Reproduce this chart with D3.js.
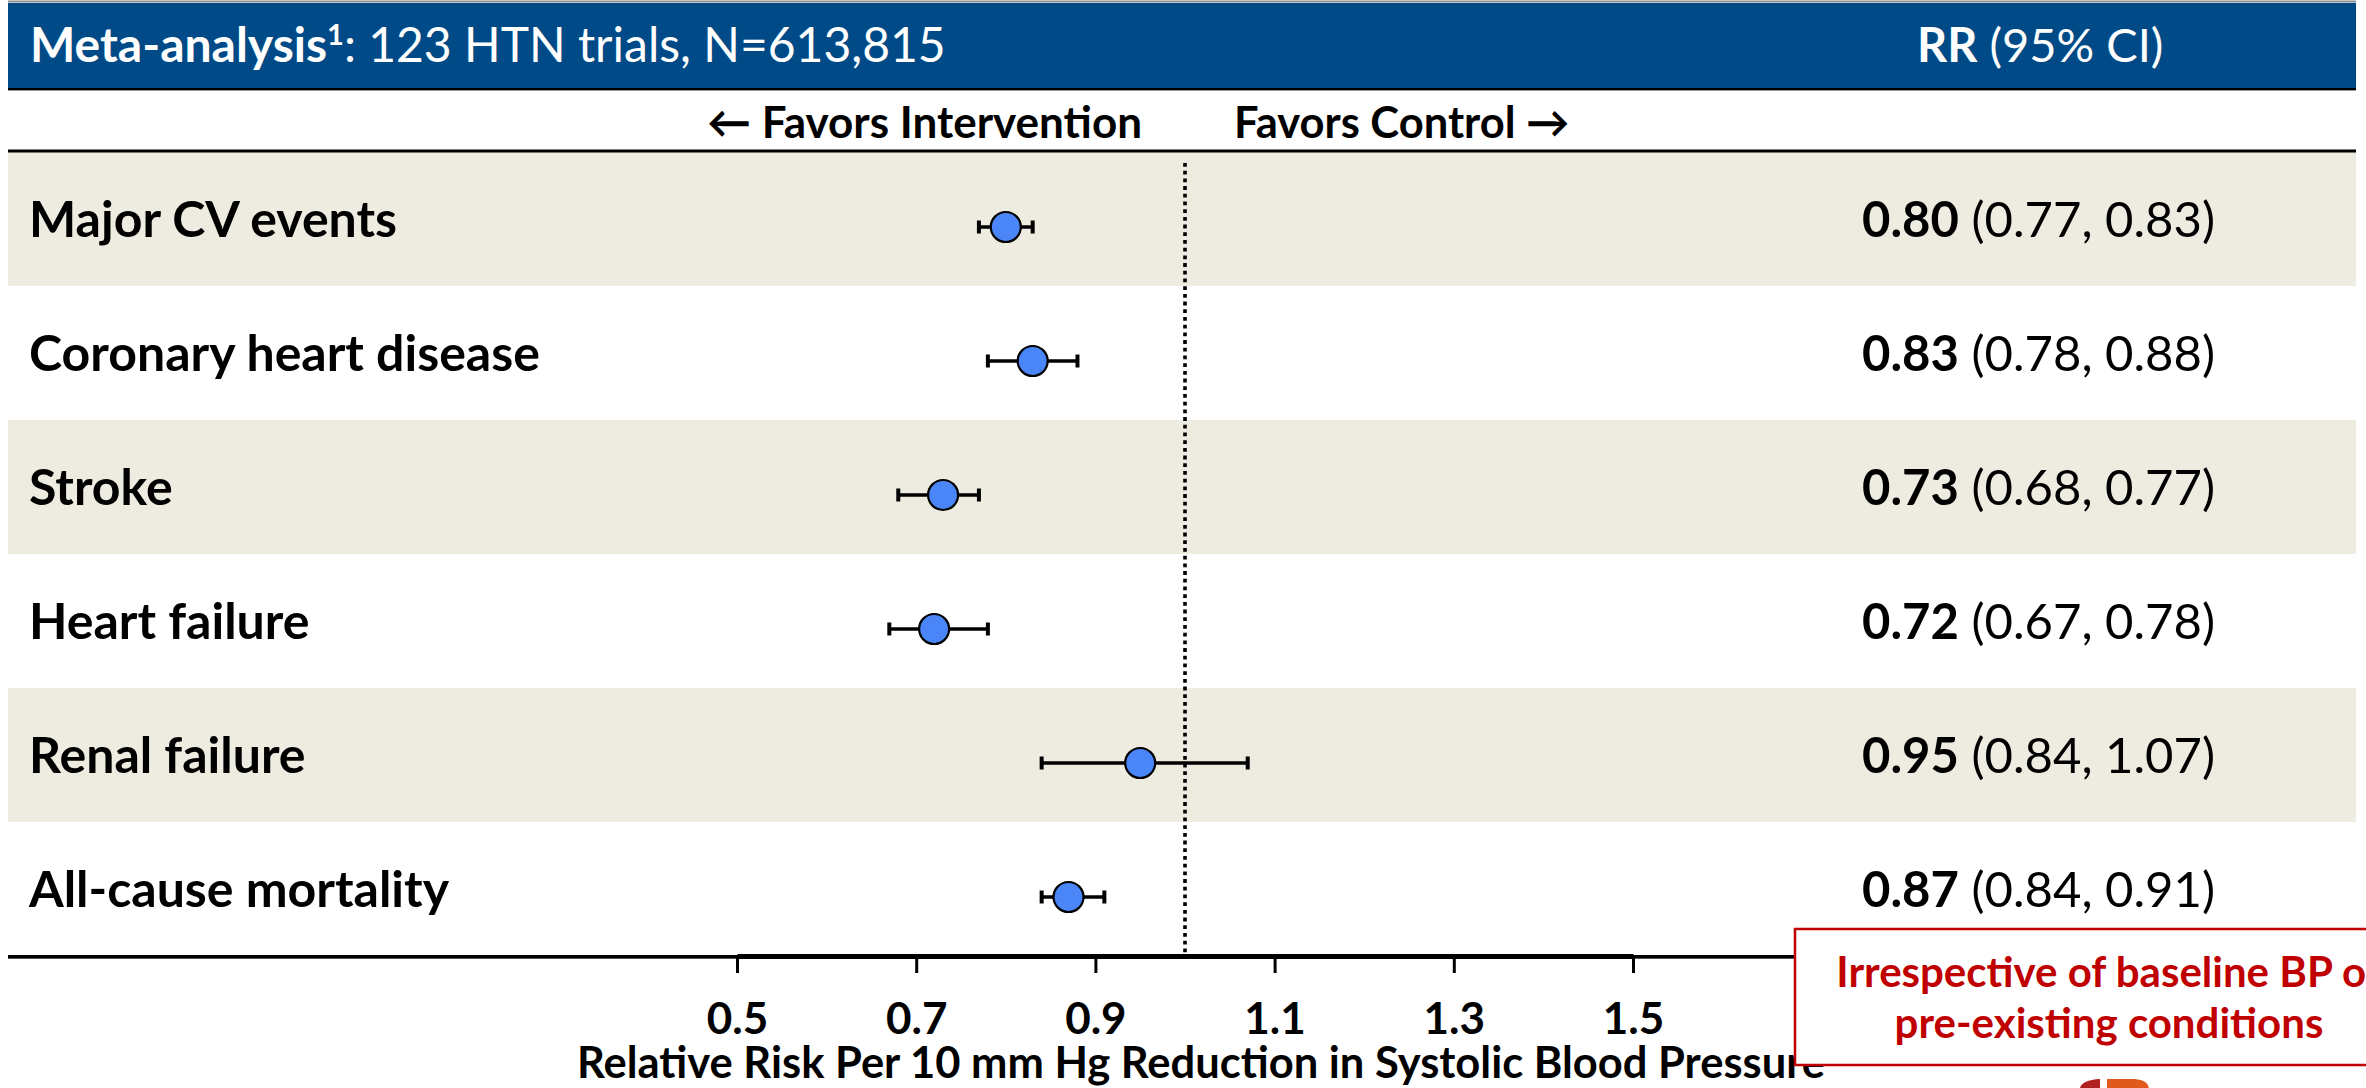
<!DOCTYPE html>
<html>
<head>
<meta charset="utf-8">
<script src="https://cdn.jsdelivr.net/npm/d3@7"></script>
<style>
  html, body { margin: 0; padding: 0; background: #ffffff; }
  svg { display: block; font-family: Lato, "Open Sans", sans-serif; }
</style>
</head>
<body>
<svg id="chart" width="2366" height="1088"></svg>
<script>
// ---- data ----
const categories = ["Major CV events", "Coronary heart disease", "Stroke", "Heart failure", "Renal failure", "All-cause mortality"];
const rr = [0.80, 0.83, 0.73, 0.72, 0.95, 0.87];
const ciLow = [0.77, 0.78, 0.68, 0.67, 0.84, 0.84];
const ciHigh = [0.83, 0.88, 0.77, 0.78, 1.07, 0.91];
const tickValues = [0.5, 0.7, 0.9, 1.1, 1.3, 1.5];
const refValue = 1.0;
const titleBold = "Meta-analysis";
const titleSup = "1";
const titleRest = ": 123 HTN trials, N=613,815";
const favorsLeft = "\u2190 Favors Intervention";
const favorsRight = "Favors Control \u2192";
const axisTitle = "Relative Risk Per 10 mm Hg Reduction in Systolic Blood Pressure";
const noteLines = ["Irrespective of baseline BP or", "pre-existing conditions"];

const rows = categories.map((c, i) => ({ cat: c, rr: rr[i], lo: ciLow[i], hi: ciHigh[i], i }));

// ---- layout ----
const svg = d3.select("#chart");
const L = 8, R = 2356;
const x = d3.scaleLinear().domain([0.5, 1.5]).range([737, 1633]);
const y = d3.scaleBand().domain(categories).range([152, 956]);
const f2 = d3.format(".2f");
const f1 = d3.format(".1f");

// top thin grey line
svg.append("line").attr("x1", L).attr("x2", R).attr("y1", 1.5).attr("y2", 1.5)
  .attr("stroke", "#8c8c8c").attr("stroke-width", 2);
// header bar
svg.append("rect").attr("x", L).attr("y", 3).attr("width", R - L).attr("height", 85).attr("fill", "#004B87");
svg.append("line").attr("x1", L).attr("x2", R).attr("y1", 89).attr("y2", 89)
  .attr("stroke", "#000").attr("stroke-width", 2);
svg.append("line").attr("x1", L).attr("x2", R).attr("y1", 90.5).attr("y2", 90.5)
  .attr("stroke", "#9a9a9a").attr("stroke-width", 1);

const title = svg.append("text").attr("x", 30).attr("y", 62).attr("fill", "#fff").attr("font-size", 48);
title.append("tspan").attr("font-weight", 700).text(titleBold);
title.append("tspan").attr("font-weight", 700).attr("font-size", 29).attr("dy", -17).text(titleSup);
title.append("tspan").attr("dy", 17).text(titleRest);

const rrHead = svg.append("text").attr("x", 1917).attr("y", 62).attr("fill", "#fff").attr("font-size", 47);
rrHead.append("tspan").attr("font-weight", 700).text("RR");
rrHead.append("tspan").text(" (95% CI)");

// favors
svg.append("text").attr("x", 1142).attr("y", 138).attr("text-anchor", "end")
  .attr("font-size", 44).attr("font-weight", 700).attr("fill", "#000").text(favorsLeft);
svg.append("text").attr("x", 1234).attr("y", 138)
  .attr("font-size", 43.5).attr("font-weight", 700).attr("fill", "#000").text(favorsRight);

// row bands
svg.append("g").selectAll("rect").data(rows).join("rect")
  .attr("x", L).attr("width", R - L)
  .attr("y", d => y(d.cat)).attr("height", y.bandwidth())
  .attr("fill", d => d.i % 2 === 0 ? "#EEEBE0" : "#FFFFFF");

// header separator line
svg.append("line").attr("x1", L).attr("x2", R).attr("y1", 151).attr("y2", 151)
  .attr("stroke", "#000").attr("stroke-width", 3);

// bottom separator line
svg.append("line").attr("x1", L).attr("x2", R).attr("y1", 956.5).attr("y2", 956.5)
  .attr("stroke", "#000").attr("stroke-width", 3);
svg.append("line").attr("x1", L).attr("x2", R).attr("y1", 958.5).attr("y2", 958.5)
  .attr("stroke", "#555").attr("stroke-width", 1);

// reference line
svg.append("line").attr("x1", x(refValue)).attr("x2", x(refValue)).attr("y1", 163).attr("y2", 955)
  .attr("stroke", "#000").attr("stroke-width", 3.6).attr("stroke-dasharray", "3.8,3.9");

// labels
svg.append("g").selectAll("text").data(rows).join("text")
  .attr("x", 29).attr("y", d => y(d.cat) + y.bandwidth() / 2 + 18)
  .attr("font-size", 50).attr("font-weight", 700).attr("fill", "#000")
  .text(d => d.cat);

// values
const vt = svg.append("g").selectAll("text").data(rows).join("text")
  .attr("x", 2215).attr("y", d => y(d.cat) + y.bandwidth() / 2 + 18)
  .attr("text-anchor", "end").attr("font-size", 49).attr("fill", "#000");
vt.append("tspan").attr("font-weight", 700).text(d => f2(d.rr));
vt.append("tspan").text(d => " (" + f2(d.lo) + ", " + f2(d.hi) + ")");

// CI and points
const pts = svg.append("g").selectAll("g").data(rows).join("g")
  .attr("transform", d => `translate(0,${y(d.cat) + y.bandwidth() / 2 + 8})`);
pts.append("line").attr("x1", d => x(d.lo)).attr("x2", d => x(d.hi))
  .attr("stroke", "#000").attr("stroke-width", 3.6);
pts.append("line").attr("x1", d => x(d.lo)).attr("x2", d => x(d.lo)).attr("y1", -6.5).attr("y2", 6.5)
  .attr("stroke", "#000").attr("stroke-width", 4);
pts.append("line").attr("x1", d => x(d.hi)).attr("x2", d => x(d.hi)).attr("y1", -6.5).attr("y2", 6.5)
  .attr("stroke", "#000").attr("stroke-width", 4);
pts.append("circle").attr("cx", d => x(d.rr)).attr("r", 15)
  .attr("fill", "#4A86F7").attr("stroke", "#000").attr("stroke-width", 2.2);

// axis
const axis = d3.axisBottom(x).tickValues(tickValues).tickFormat(f1).tickSize(17).tickSizeOuter(0);
const ag = svg.append("g").attr("transform", "translate(0,956)").call(axis);
ag.select(".domain").attr("stroke", "#000").attr("stroke-width", 5);
ag.selectAll(".tick line").attr("stroke", "#000").attr("stroke-width", 3);
ag.selectAll(".tick text").attr("y", 78).attr("dy", 0)
  .attr("font-size", 44).attr("font-weight", 700).attr("fill", "#000").attr("font-family", "Lato");
svg.append("text").attr("x", 1201).attr("y", 1078).attr("text-anchor", "middle")
  .attr("font-size", 43.5).attr("font-weight", 700).attr("fill", "#000").text(axisTitle);

// note box
svg.append("rect").attr("x", 1795).attr("y", 929).attr("width", 640).attr("height", 136)
  .attr("fill", "#fff").attr("stroke", "#C00000").attr("stroke-width", 2.5);
svg.append("g").selectAll("text").data(noteLines).join("text")
  .attr("x", 2109).attr("y", (d, i) => 987 + i * 51).attr("text-anchor", "middle")
  .attr("font-size", 42).attr("font-weight", 700).attr("fill", "#C00000").text(d => d);

// logo fragment at bottom edge
svg.append("path").attr("d", "M2080,1088 Q2082,1080 2100,1079 L2100,1088 Z").attr("fill", "#B0201F");
svg.append("path").attr("d", "M2107,1088 L2107,1079 L2135,1079 Q2148,1080 2149,1088 Z").attr("fill", "#E05A1E");
</script>
</body>
</html>
